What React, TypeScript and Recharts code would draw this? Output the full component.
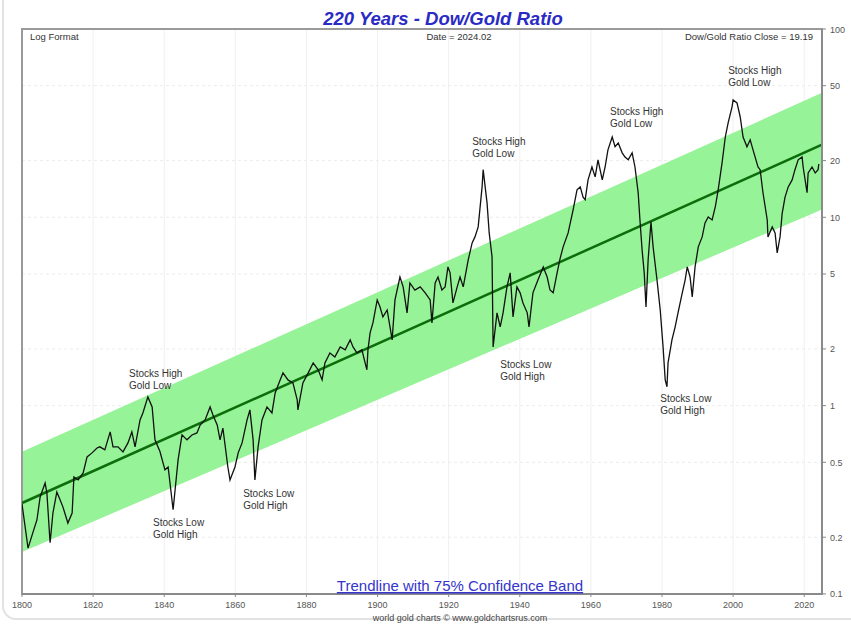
import React from 'react';
import {
  ComposedChart,
  Line,
  Area,
  XAxis,
  YAxis,
  CartesianGrid,
  ReferenceDot,
  ReferenceArea,
} from 'recharts';

// Dow/Gold ratio: [year, ratio]
const ratio1800to1849: [number, number][] = [
  [1800.0, 0.3], [1801.7, 0.175], [1803.1, 0.213], [1804.2, 0.247], [1805.1, 0.327],
  [1806.5, 0.388], [1807.0, 0.344], [1807.9, 0.187], [1808.7, 0.269], [1809.8, 0.348],
  [1810.7, 0.316], [1811.5, 0.29], [1812.9, 0.238], [1814.1, 0.269], [1814.6, 0.418],
  [1815.8, 0.403], [1817.2, 0.439], [1818.3, 0.534], [1819.7, 0.561], [1821.1, 0.596],
  [1821.9, 0.604], [1823.3, 0.582], [1824.8, 0.725], [1825.6, 0.604], [1827.0, 0.604],
  [1828.4, 0.568], [1829.8, 0.634], [1830.9, 0.725], [1831.8, 0.604], [1833.2, 0.839],
  [1834.0, 0.914], [1835.4, 1.112], [1836.6, 0.984], [1837.4, 0.658], [1838.8, 0.57],
  [1840.2, 0.456], [1841.1, 0.472], [1842.5, 0.28], [1843.9, 0.515], [1845.0, 0.7],
  [1846.4, 0.658], [1847.8, 0.698], [1849.2, 0.716],
];
const ratio1850to1899: [number, number][] = [
  [1850.1, 0.789], [1851.5, 0.839], [1852.9, 0.984], [1853.7, 0.891], [1854.9, 0.789],
  [1855.7, 0.658], [1856.5, 0.76], [1857.9, 0.472], [1858.5, 0.403], [1859.9, 0.472],
  [1860.8, 0.561], [1861.9, 0.634], [1863.3, 0.839], [1864.1, 0.949], [1865.0, 0.658],
  [1865.5, 0.403], [1866.4, 0.604], [1867.5, 0.839], [1868.9, 0.984], [1870.3, 0.914],
  [1871.2, 1.168], [1872.6, 1.369], [1873.4, 1.492], [1874.8, 1.369], [1876.2, 1.32],
  [1877.4, 1.072], [1877.6, 0.949], [1879.0, 1.32], [1880.5, 1.492], [1881.9, 1.686],
  [1883.3, 1.549], [1884.4, 1.369], [1885.2, 1.686], [1886.6, 1.905], [1888.0, 1.814],
  [1889.5, 2.05], [1890.9, 1.977], [1892.3, 2.234], [1893.1, 2.05], [1894.2, 1.905],
  [1895.6, 1.977], [1896.5, 1.686], [1897.0, 1.549], [1897.3, 1.977], [1897.9, 2.432],
  [1898.7, 2.749], [1899.9, 3.64],
];
const ratio1900to1949: [number, number][] = [
  [1900.7, 3.34], [1901.5, 2.96], [1902.7, 3.22], [1903.5, 2.62], [1904.1, 2.234],
  [1904.9, 3.64], [1906.3, 4.82], [1907.2, 4.27], [1908.3, 3.11], [1909.1, 4.48],
  [1910.5, 4.11], [1912.0, 4.27], [1913.4, 3.97], [1914.8, 3.64], [1915.3, 2.749],
  [1916.2, 4.48], [1917.0, 4.82], [1918.1, 4.11], [1919.0, 4.27], [1919.8, 5.45],
  [1920.4, 5.07], [1921.2, 3.51], [1922.4, 4.27], [1923.2, 4.82], [1924.1, 4.27],
  [1925.5, 5.94], [1926.6, 7.31], [1927.4, 7.87], [1928.3, 8.89], [1929.4, 14.5],
  [1929.7, 17.9], [1930.8, 11.9], [1931.4, 8.26], [1932.2, 6.17], [1932.5, 2.05],
  [1933.6, 3.11], [1934.5, 2.62], [1935.3, 3.11], [1936.4, 4.27], [1937.3, 5.07],
  [1938.1, 2.96], [1939.2, 4.27], [1940.1, 3.97], [1940.9, 3.51], [1942.1, 3.11],
  [1942.6, 2.62], [1943.7, 3.97], [1945.1, 4.64], [1946.6, 5.45], [1947.7, 4.82],
  [1948.5, 4.11], [1949.4, 3.97],
];
const ratio1950to2024: [number, number][] = [
  [1950.5, 5.07], [1951.3, 6.0], [1952.2, 6.97], [1953.6, 8.26], [1955.0, 10.96],
  [1956.1, 14.0], [1957.0, 14.5], [1957.8, 12.8], [1958.4, 12.4], [1959.2, 15.8],
  [1960.3, 18.5], [1961.2, 16.4], [1962.0, 20.2], [1963.2, 15.8], [1964.0, 18.5],
  [1964.8, 22.8], [1966.0, 26.7], [1966.8, 23.7], [1967.7, 24.8], [1968.8, 22.0],
  [1969.6, 20.9], [1970.5, 20.2], [1971.6, 22.0], [1972.4, 18.5], [1973.3, 13.5],
  [1973.8, 9.68], [1974.4, 6.72], [1975.0, 5.07], [1975.5, 3.34], [1976.1, 5.94],
  [1976.9, 9.46], [1977.5, 6.97], [1978.6, 4.64], [1979.5, 3.22], [1980.3, 2.05],
  [1980.9, 1.37], [1981.4, 1.26], [1981.7, 1.686], [1982.8, 2.234], [1983.7, 2.62],
  [1984.5, 3.11], [1985.7, 3.97], [1986.5, 4.64], [1987.1, 5.45], [1987.9, 4.82],
  [1988.5, 3.78], [1989.3, 5.45], [1990.2, 6.97], [1991.3, 7.87], [1992.1, 9.34],
  [1993.0, 10.05], [1994.1, 9.68], [1995.0, 11.4], [1995.8, 14.0], [1996.9, 19.5],
  [1997.8, 26.7], [1998.6, 31.7], [1999.7, 38.6], [2000.0, 42.0], [2001.1, 40.5],
  [2002.0, 34.1], [2002.8, 26.7], [2003.9, 23.7], [2004.8, 25.8], [2005.6, 22.8],
  [2007.0, 18.5], [2007.6, 17.9], [2008.4, 13.5], [2009.6, 9.68], [2009.8, 7.87],
  [2011.0, 8.89], [2011.8, 8.26], [2012.4, 6.47], [2013.2, 7.87], [2013.8, 10.5],
  [2014.6, 12.8], [2015.5, 14.5], [2016.6, 15.8], [2017.4, 17.9], [2018.3, 20.2],
  [2019.4, 20.9], [2019.7, 18.5], [2020.8, 13.5], [2021.1, 17.2], [2022.2, 18.5],
  [2023.1, 17.2], [2023.9, 17.9], [2024.1, 19.19],
];

// Trendline and 75% confidence band endpoints
const trendYears = [1800, 2025];
const trendValues = [0.304, 24.3];
const bandLow = [0.167, 11.0];
const bandHigh = [0.568, 45.8];

const xTicks = [1800, 1820, 1840, 1860, 1880, 1900, 1920, 1940, 1960, 1980, 2000, 2020];
const yTicks = [0.1, 0.2, 0.5, 1, 2, 5, 10, 20, 50, 100];

const annotations = [
  { year: 1830.1, value: 1.42, lines: ['Stocks High', 'Gold Low'] },
  { year: 1836.85, value: 0.23, lines: ['Stocks Low', 'Gold High'] },
  { year: 1862.2, value: 0.327, lines: ['Stocks Low', 'Gold High'] },
  { year: 1926.6, value: 24.3, lines: ['Stocks High', 'Gold Low'] },
  { year: 1934.5, value: 1.59, lines: ['Stocks Low', 'Gold High'] },
  { year: 1965.4, value: 35.0, lines: ['Stocks High', 'Gold Low'] },
  { year: 1979.5, value: 1.046, lines: ['Stocks Low', 'Gold High'] },
  { year: 1998.6, value: 57.8, lines: ['Stocks High', 'Gold Low'] },
];

type Row = { year: number; ratio?: number; trend?: number; band?: [number, number] };

const buildRows = (): Row[] => {
  const all = [...ratio1800to1849, ...ratio1850to1899, ...ratio1900to1949, ...ratio1950to2024];
  const rows: Row[] = all.map(([year, ratio]) => ({ year, ratio }));
  trendYears.forEach((y, i) => {
    let row = rows.find((r) => r.year === y);
    if (!row) {
      row = { year: y };
      rows.push(row);
    }
    row.trend = trendValues[i];
    row.band = [bandLow[i], bandHigh[i]];
  });
  rows.sort((a, b) => a.year - b.year);
  return rows;
};

const data = buildRows();

const FONT = '"Liberation Sans", Arial, sans-serif';

const AnnotationShape = (props: any) => {
  const { cx, cy, lines } = props;
  if (cx == null || cy == null) return null;
  return (
    <text x={cx} y={cy} fontSize={10} fill="#333" fontFamily={FONT}>
      {lines.map((l: string, i: number) => (
        <tspan key={i} x={cx} dy={i === 0 ? 0 : 12}>
          {l}
        </tspan>
      ))}
    </text>
  );
};

const YTick = (props: any) => {
  const { x, y, payload } = props;
  return (
    <text x={x + 2} y={y} dy={3.5} fontSize={9} fill="#555" fontFamily={FONT}>
      {String(payload.value)}
    </text>
  );
};

export default function App() {
  return (
    <div
      style={{
        position: 'absolute',
        left: 0,
        top: 0,
        width: 851,
        height: 624,
        background: '#fff',
        overflow: 'hidden',
        fontFamily: FONT,
      }}
    >
      <div
        style={{
          position: 'absolute',
          left: 2,
          top: -20,
          width: 880,
          height: 640,
          border: '2px solid #e2e2e2',
          borderRadius: 14,
          boxSizing: 'border-box',
        }}
      />
      <div style={{ position: 'absolute', left: 0, top: 0 }}>
        <ComposedChart
          width={851}
          height={624}
          data={data}
          margin={{ top: 29, right: 0, bottom: 0, left: 22 }}
        >
          <CartesianGrid vertical={true} horizontal={false} stroke="#f0f0f0" />
          <CartesianGrid vertical={false} horizontal={true} stroke="#ececec" strokeDasharray="3 3" />
          <XAxis
            dataKey="year"
            type="number"
            domain={[1800, 2025]}
            ticks={xTicks}
            allowDataOverflow
            height={30}
            tickSize={3}
            tickMargin={5}
            tickLine={{ stroke: '#888' }}
            axisLine={{ stroke: '#8a8a8a', strokeWidth: 2 }}
            tick={{ fontSize: 9, fill: '#555', fontFamily: FONT }}
            interval={0}
          />
          <YAxis
            orientation="right"
            scale="log"
            domain={[0.0999, 100]}
            ticks={yTicks}
            allowDataOverflow
            width={29}
            tickSize={4}
            tickLine={{ stroke: '#888' }}
            axisLine={{ stroke: '#8a8a8a', strokeWidth: 2 }}
            tick={<YTick />}
            interval={0}
          />
          <Area
            dataKey="band"
            type="linear"
            fill="#97f397"
            fillOpacity={1}
            stroke="none"
            connectNulls
            isAnimationActive={false}
            dot={false}
            activeDot={false}
          />
          <Line
            dataKey="trend"
            type="linear"
            stroke="#0b6e0b"
            strokeWidth={2.5}
            connectNulls
            dot={false}
            activeDot={false}
            isAnimationActive={false}
          />
          <Line
            dataKey="ratio"
            type="linear"
            stroke="#111"
            strokeWidth={1.3}
            connectNulls
            dot={false}
            activeDot={false}
            isAnimationActive={false}
          />
          <ReferenceArea
            x1={1800}
            x2={2025}
            y1={0.0999}
            y2={100}
            fill="none"
            stroke="#9a9a9a"
            strokeWidth={2}
            ifOverflow="visible"
          />
          {annotations.map((a, i) => (
            <ReferenceDot
              key={i}
              x={a.year}
              y={a.value}
              r={0}
              ifOverflow="visible"
              shape={(p: any) => <AnnotationShape {...p} lines={a.lines} />}
            />
          ))}
        </ComposedChart>
      </div>
      <svg
        width={851}
        height={624}
        style={{ position: 'absolute', left: 0, top: 0, pointerEvents: 'none' }}
      >
        <text
          x={443}
          y={25}
          textAnchor="middle"
          fontSize={18.5}
          fontWeight="bold"
          fontStyle="italic"
          fill="#2a2ac4"
          fontFamily={FONT}
        >
          220 Years - Dow/Gold Ratio
        </text>
        <text x={30} y={40} fontSize={9.5} fill="#333" fontFamily={FONT}>
          Log Format
        </text>
        <text x={459} y={40} textAnchor="middle" fontSize={9.5} fill="#333" fontFamily={FONT}>
          Date = 2024.02
        </text>
        <text x={813} y={40} textAnchor="end" fontSize={9.5} fill="#333" fontFamily={FONT}>
          Dow/Gold Ratio Close = 19.19
        </text>
        <text
          x={460}
          y={591}
          textAnchor="middle"
          fontSize={15}
          fill="#3535cc"
          textDecoration="underline"
          fontFamily={FONT}
        >
          Trendline with 75% Confidence Band
        </text>
        <text x={460} y={621} textAnchor="middle" fontSize={9} fill="#444" fontFamily={FONT}>
          world gold charts © www.goldchartsrus.com
        </text>
      </svg>
    </div>
  );
}
